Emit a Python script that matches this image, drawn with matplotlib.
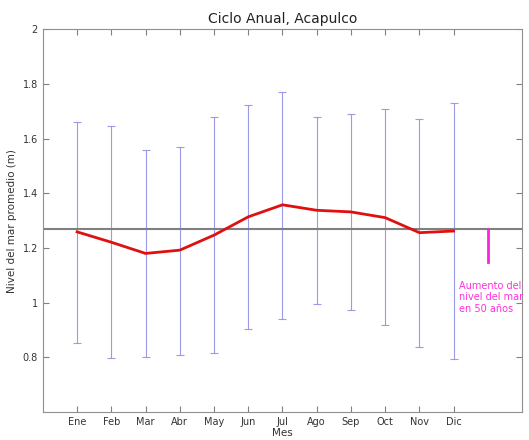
import matplotlib
matplotlib.use("Agg")
import matplotlib.pyplot as plt
import numpy as np

meses = ['Ene', 'Feb', 'Mar', 'Abr', 'May', 'Jun', 'Jul', 'Ago', 'Sep', 'Oct', 'Nov', 'Dic']
nivel = [1.259, 1.221, 1.180, 1.192, 1.247, 1.314, 1.358, 1.338, 1.332, 1.311, 1.256, 1.262]
maximo = [1.662, 1.646, 1.560, 1.571, 1.680, 1.723, 1.771, 1.681, 1.692, 1.708, 1.674, 1.730]
minimo = [0.853, 0.797, 0.801, 0.807, 0.815, 0.902, 0.941, 0.996, 0.974, 0.917, 0.836, 0.795]
media = 1.27
aumento = 0.12  # aumento del nivel del mar en 50 años

x = np.arange(1, 13)
nivel = np.array(nivel)
err = [nivel - np.array(minimo), np.array(maximo) - nivel]

fig = plt.figure(figsize=(5.29, 4.4), dpi=100)
ax = fig.add_axes([0.081, 0.064, 0.906, 0.869])

ax.errorbar(x, nivel, yerr=err, fmt='none', ecolor='#9090e8', elinewidth=0.8,
            capsize=3, capthick=0.8, alpha=0.9)
ax.axhline(media, color='#808080', lw=1.5)
ax.plot(x, nivel, color='#e01010', lw=2)
ax.plot([13, 13], [media, media - aumento], color='#ff20e0', lw=2)
ax.text(12.17, 1.08, 'Aumento del\nnivel del mar\nen 50 años', color='#ff30e0',
        fontsize=7, va='top', ha='left', linespacing=1.2)

ax.set_xlim(0, 14)
ax.set_ylim(0.6, 2)
ax.set_xticks(x)
ax.set_xticklabels(meses)
ax.set_yticks([0.8, 1, 1.2, 1.4, 1.6, 1.8, 2])
ax.set_yticklabels(['0.8', '1', '1.2', '1.4', '1.6', '1.8', '2'])
ax.tick_params(direction='in', top=True, right=True, labelsize=7, length=4,
               color='#808080', labelcolor='#333333')
for s in ax.spines.values():
    s.set_color('#909090')
ax.set_xlabel('Mes', fontsize=7.5, color='#333333', labelpad=1)
ax.set_ylabel('Nivel del mar promedio (m)', fontsize=7.5, color='#333333')
ax.set_title('Ciclo Anual, Acapulco', fontsize=10, color='#222222', pad=5)

fig.savefig('out.png', dpi=100)
